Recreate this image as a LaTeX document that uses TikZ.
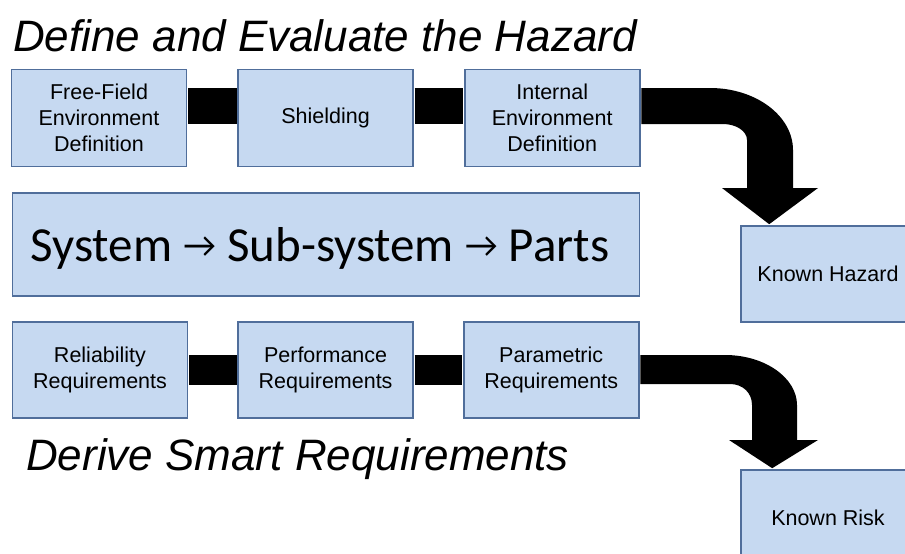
\documentclass[tikz,border=0pt]{standalone}
\usepackage{fontspec}
\setmainfont{Liberation Sans}
\newfontfamily\calibri{Carlito}
\usetikzlibrary{positioning}
\usepackage{xcolor}

\newcommand{\thinarrow}{\raisebox{4pt}{\fontsize{36}{36}\selectfont →}}

\begin{document}
\begin{tikzpicture}[x=1pt, y=-1pt, every node/.style={font=\fontsize{21.5}{26}\selectfont}]
			% Define colors
			\definecolor{stepfill}{RGB}{198, 217, 241}
			\definecolor{stepline}{RGB}{80, 110, 155}

			% Styles
			\tikzstyle{step_box} = [fill=stepfill, draw=stepline, line width=1.6pt, minimum width=175pt, minimum height=97pt, align=center, inner sep=2pt]
			\tikzstyle{result_box} = [step_box, minimum width=174pt, minimum height=96pt]
			\tikzstyle{title_text} = [font=\fontsize{44}{50}\selectfont\itshape, anchor=base west, inner sep=0pt]
			\tikzstyle{bar} = [line width=36pt, black, shorten <=0.8pt, shorten >=0.8pt]

			% Page frame
			\useasboundingbox (0,0) rectangle (905,554);
			\clip (0,0) rectangle (905,554);

			% Title
			\node[title_text] (top_title) at (13,51) {Define and Evaluate the Hazard};

			% Hazard chain (top)
			\node[step_box] (freefield) at (99,118) {Free-Field\\Environment\\Definition};
			\node[step_box, right=50pt of freefield] (shielding) {Shielding};
			\node[step_box, right=50pt of shielding] (internal) {Internal\\Environment\\Definition};

			% System breakdown
			\node[step_box, minimum width=627pt, minimum height=103pt, font=\calibri\fontsize{49}{60}\selectfont] (system) at (326,244.5)
				{\raisebox{-4pt}[\height][\depth]{System \thinarrow\ Sub-system \thinarrow\ Parts}\hspace{12pt}};

			% Requirements chain (bottom)
			\node[step_box, minimum height=96pt] (reliab) at (100,370) {Reliability\\Requirements};
			\node[step_box, minimum height=96pt, right=49pt of reliab] (perform) {Performance\\Requirements};
			\node[step_box, minimum height=96pt, right=49pt of perform] (param) {Parametric\\Requirements};

			\node[title_text] (bottom_title) at (26,470) {Derive Smart Requirements};

			% Results
			\node[result_box] (hazard) at (828,274) {Known Hazard};
			\node[result_box] (risk) at (828,518) {Known Risk};

			% Links between steps
			\draw[bar] ([yshift=12pt]freefield.east) -- ([yshift=12pt]shielding.west);
			\draw[bar] ([yshift=12pt]shielding.east) -- ([yshift=12pt]internal.west);
			\draw[bar, line width=30pt] ([yshift=0.5pt]reliab.east) -- ([yshift=0.5pt]perform.west);
			\draw[bar, line width=30pt] ([yshift=0.5pt]perform.east) -- ([yshift=0.5pt]param.west);

			% Bent arrows to results
			\coordinate (hazard_tip) at ([xshift=29pt, yshift=1pt]hazard.north west);
			\fill ([xshift=0.8pt, yshift=30pt]internal.east) -- (710,88) .. controls (756,88) and (793,116) .. (793,150)
				-- (793,188) -- (818,188) -- (hazard_tip) -- (722,188) -- (747,188) -- (747,140)
				.. controls (747,131) and (736,124) .. (723,124) -- ([xshift=0.8pt, yshift=-6pt]internal.east) -- cycle;

			\coordinate (risk_tip) at ([xshift=32pt, yshift=1pt]risk.north west);
			\fill ([xshift=0.8pt, yshift=15pt]param.east) -- (725,355) .. controls (765,355) and (797,378) .. (797,405)
				-- (797,440) -- (818,440) -- (risk_tip) -- (729,440) -- (752,440) -- (752,405)
				.. controls (752,393) and (743,384) .. (730,384) -- ([xshift=0.8pt, yshift=-14pt]param.east) -- cycle;

		\end{tikzpicture}
\end{document}
